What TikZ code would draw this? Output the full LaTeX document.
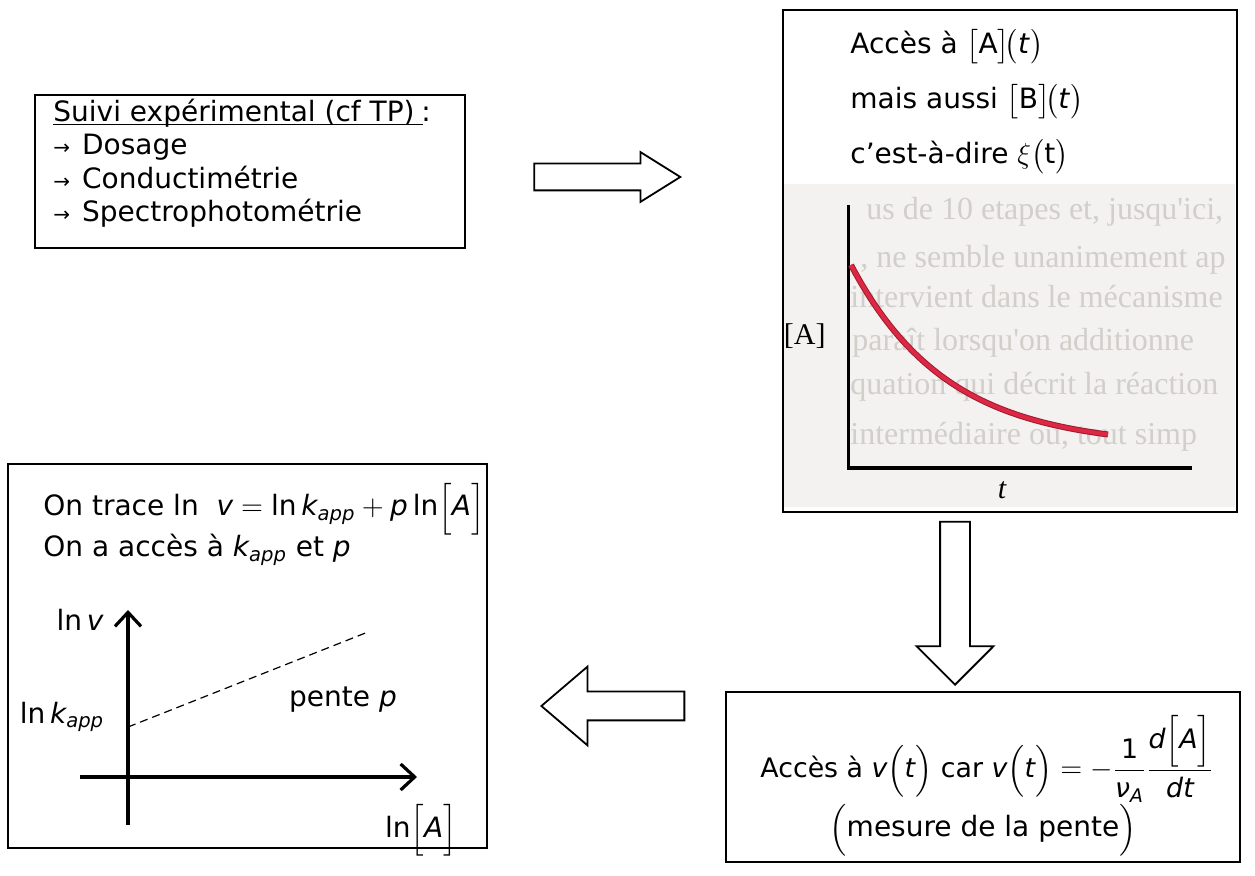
\documentclass[tikz,border=0pt]{standalone}
\usepackage{amsmath}
\usepackage{fontspec}
\setmainfont{DejaVu Sans}
\newfontfamily\photofont{Liberation Serif}
\usetikzlibrary{arrows.meta,shapes.arrows,positioning,calc}
\definecolor{photoBg}{HTML}{F3F2F0}
\definecolor{ghostTxt}{HTML}{D2CFCA}
\definecolor{curveRed}{HTML}{DC2844}
\definecolor{curveEdge}{HTML}{9E1B2E}
\newcommand{\mt}[1]{\text{\itshape #1}}
\tikzset{
  panel/.style={draw=black, line width=0.9pt, fill=white, inner sep=0pt},
  txt/.style={anchor=base west, inner sep=0pt, font=\fontsize{14}{17}\selectfont},
  blockarrow/.style={single arrow, draw=black, line width=0.9pt, fill=white,
              minimum width=0pt, inner sep=6.25pt, single arrow head extend=5.75pt,
              single arrow tip angle=64, minimum height=73pt, anchor=tip},
  axis/.style={line width=1.6pt, -{Straight Barb[length=7pt,width=13pt,line width=1.6pt]}},
  ghost/.style={anchor=base west, inner sep=0pt, text=ghostTxt,
              font=\photofont\fontsize{16}{16}\selectfont},
  plabel/.style={inner sep=0pt, font=\photofont\fontsize{15}{15}\selectfont},
}

\begin{document}
\begin{tikzpicture}[x=0.5pt,y=-0.5pt]
  \useasboundingbox (0,0) rectangle (1255,876);

  % the four boxes
  \node[panel, minimum width=215pt, minimum height=76.5pt] (suivi) at (250,171.5) {};
  \node[panel, minimum width=227pt, minimum height=251pt] (acces) at (1010,261) {};
  \node[panel, minimum width=257pt, minimum height=85pt] (vitesse) at (983,777) {};
  \node[panel, minimum width=239.5pt, minimum height=192pt] (trace) at (247.5,656) {};

  % block arrows between the boxes (placed by their tips)
  \node[blockarrow] (arA) at (682,177) {};
  \node[blockarrow, minimum height=81.5pt, inner sep=7pt,
        single arrow head extend=11.75pt, single arrow tip angle=90,
        shape border rotate=270] (arB) at (955,686) {};
  \node[blockarrow, minimum height=71.5pt, inner sep=6.75pt,
        single arrow head extend=12.5pt, single arrow tip angle=81,
        shape border rotate=180] (arC) at (540,706) {};

  % box 1 : suivi experimental
  \node[txt] (titre) at (53,122) {Suivi expérimental (cf TP)};
  \node[txt, right=3pt of titre.base east, anchor=base west] (colon) {:};
  \draw[line width=0.5pt] ([yshift=-1.3pt]titre.base west) -- ([xshift=4pt,yshift=-1.3pt]titre.base east);
  \foreach \y/\mot in {155/Dosage,189/Conductimétrie,222/Spectrophotométrie}{
    \node[txt] at (53,\y) {{\fontsize{10}{10}\selectfont →}\hspace{6pt}\mot};}

  % box 2 : acces a [A](t)
  \node[txt] (accA) at (850,54) {Accès à $\big[$A$\big]\!\big($\textit{t}$\big)$};
  \node[txt] (accB) at (850,109) {mais aussi $\big[$B$\big]\!\big($\textit{t}$\big)$};
  \node[txt] (accXi) at (850,164) {c{\char"0027}est-à-dire $\xi\big($t$\big)$};

  % scanned graph [A] = f(t)
  \fill[photoBg] (784,184) rectangle (1235,507);
  \begin{scope}
    \clip (784,184) rectangle (1235,507);
    \node[ghost] at (866,220) {us de 10 etapes et, jusqu'ici,};
    \node[ghost] at (860,268) {, ne semble unanimement ap};
    \node[ghost] at (850,308) {intervient dans le mécanisme};
    \node[ghost] at (852,351) {paraît lorsqu'on additionne};
    \node[ghost] at (850,395) {quation qui décrit la réaction};
    \node[ghost] at (850,445) {intermédiaire ou, tout simp};
  \end{scope}
  \draw[line width=1.5pt] (848,205) -- (848,468);
  \draw[line width=2pt] (847,468) -- (1192,468);
  \draw[curveEdge, line width=3pt] plot[domain=851:1108, samples=60]
        (\x,{447-182*exp(-(\x-851)/96)});
  \draw[curveRed, line width=2pt] plot[domain=851:1108, samples=60]
        (\x,{447-182*exp(-(\x-851)/96)});
  \node[plabel, anchor=east] (concA) at (826,336) {[A]};
  \node[plabel] (tps) at (1002,490) {\itshape t};

  % box 3 : vitesse
  \node[txt, font=\fontsize{13.4}{16}\selectfont] (vit) at (760,778) {Accès à \mt{v}$\Big($\mt{t}$\Big)$ car
        $\mt{v}\Big(\mt{t}\Big)=-\dfrac{\text{1}}{\mt{ν}_{\mt{A}}}\dfrac{\mt{d}\Big[\mt{A}\Big]}{\mt{dt}}$};
  \node[txt, anchor=base] (pente) at (983,837) {$\Big($mesure de la pente$\Big)$};

  % box 4 : ln v = f(ln[A])
  \node[txt] (eqln) at (43,516) {On trace ln\ \ $\mt{v}=\text{ln}\,\mt{k}_{\mt{app}}+\mt{p}\,\text{ln}\Big[\mt{A}\Big]$};
  \node[txt] (kp) at (43,557) {On a accès à $\mt{k}_{\mt{app}}$ et \mt{p}};
  \coordinate (yb) at (128,825);
  \coordinate (yt) at (128,610);
  \coordinate (xl) at (80,777);
  \coordinate (xr) at (417,777);
  \coordinate (d0) at (128,727);
  \coordinate (d1) at (368,632);
  \draw[axis] (yb) -- (yt);
  \draw[axis] (xl) -- (xr);
  \draw[line width=0.6pt, dash pattern=on 4pt off 2.5pt] (d0) -- (d1);
  \node[txt, anchor=center] (lnv) at (80,620) {ln\,\mt{v}};
  \node[txt, anchor=center] (lnk) at (62,717) {ln\,$\mt{k}_{\mt{app}}$};
  \node[txt, anchor=center] (pp) at (343,700) {pente \mt{p}};
  \node[txt, anchor=center] (lnA) at (421,830) {ln$\Big[\mt{A}\Big]$};
\end{tikzpicture}
\end{document}
